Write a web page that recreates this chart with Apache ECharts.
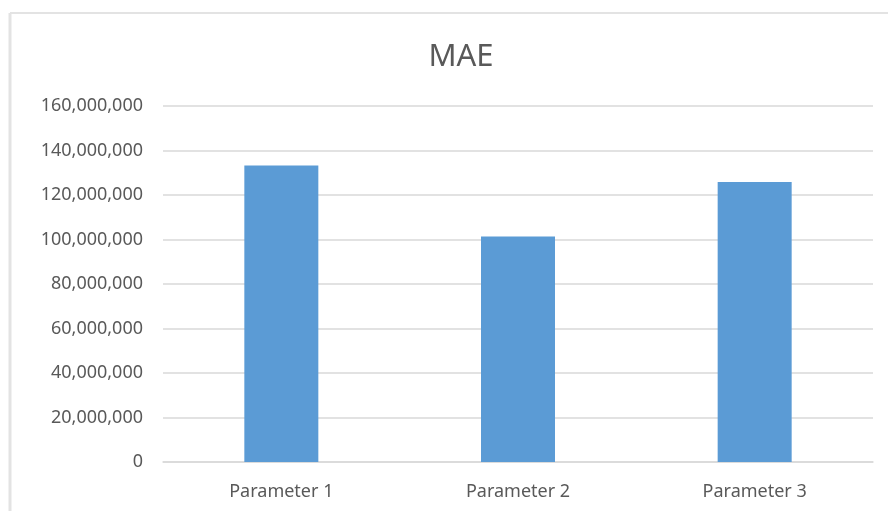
<!DOCTYPE html>
<html>
<head>
<meta charset="utf-8">
<script src="https://cdn.jsdelivr.net/npm/echarts@6/dist/echarts.min.js"></script>
<style>
  html, body { margin: 0; padding: 0; background: #fff; }
  #main { width: 888px; height: 511px; }
</style>
</head>
<body>
<div id="main"></div>
<script>
// 数据
const categories = ['Parameter 1', 'Parameter 2', 'Parameter 3']
const maeValues = [133300000, 101300000, 125800000]

const chart = echarts.init(document.getElementById('main'))
const textColor = '#595959'
const fontFamily = 'Noto Sans, sans-serif'

const option = {
  animation: false,
  title: {
    text: 'MAE',
    left: 456,
    textAlign: 'center',
    top: 37,
    textStyle: { fontSize: 31, fontWeight: 'normal', color: textColor, fontFamily }
  },
  graphic: [
    // 外框（上边和左边）
    { type: 'line', shape: { x1: 10, y1: 13, x2: 888, y2: 13 }, style: { stroke: '#e3e3e3', lineWidth: 2 } },
    { type: 'line', shape: { x1: 10, y1: 13, x2: 10, y2: 511 }, style: { stroke: '#e3e3e3', lineWidth: 3 } }
  ],
  grid: { left: 163, right: 15, top: 106, bottom: 49 },
  xAxis: {
    type: 'category',
    data: categories,
    axisTick: { show: false },
    axisLine: { lineStyle: { color: '#d9d9d9', width: 1.5 } },
    axisLabel: { color: textColor, fontSize: 18, fontFamily, margin: 21 }
  },
  yAxis: {
    type: 'value',
    min: 0,
    max: 160000000,
    interval: 20000000,
    axisLine: { show: false },
    axisTick: { show: false },
    splitLine: { lineStyle: { color: '#d9d9d9', width: 1.5 } },
    axisLabel: {
      color: textColor,
      fontSize: 18,
      fontFamily,
      margin: 20,
      formatter: v => v.toLocaleString('en-US')
    }
  },
  series: [{
    type: 'bar',
    data: maeValues,
    barWidth: 74,
    itemStyle: { color: '#5b9bd5' }
  }]
}
chart.setOption(option)
</script>
</body>
</html>
